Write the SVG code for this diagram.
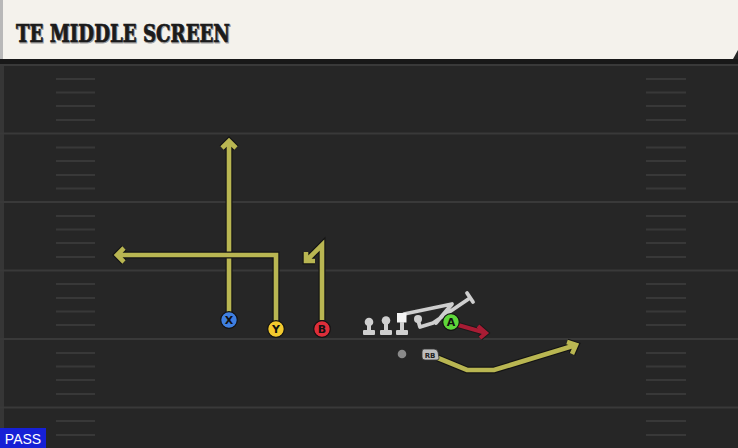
<svg xmlns="http://www.w3.org/2000/svg" width="738" height="448" viewBox="0 0 738 448">
<defs>
<style>
.yard{stroke:#393939;stroke-width:2.2}
.hash{stroke:#383838;stroke-width:2}
.ro{fill:none;stroke:#141414;stroke-width:7;stroke-linejoin:miter;stroke-linecap:butt}
.ri{fill:none;stroke:#b9b652;stroke-width:4.6;stroke-linejoin:miter;stroke-linecap:butt}
.bo{fill:none;stroke:#2a2a2a;stroke-width:5.5;stroke-linejoin:round;stroke-linecap:round}
.bi{fill:none;stroke:#cfcfcf;stroke-width:3.8;stroke-linejoin:round;stroke-linecap:round}
.lm{fill:#cfcfcf}
.lbl{font-family:"DejaVu Sans","Liberation Sans",sans-serif;font-weight:bold;font-size:11px;text-anchor:middle;fill:#111}
.ttl{font-family:"DejaVu Serif Condensed","DejaVu Serif",serif;font-weight:bold;font-size:25px}
</style>
</defs>
<rect x="0" y="0" width="738" height="448" fill="#262626"/>
<!-- header -->
<rect x="0" y="59" width="738" height="6" fill="#181818"/>
<path d="M0,0 H738 V50 L733,59 H0 Z" fill="#f4f2ec"/>
<rect x="0" y="0" width="3" height="59" fill="#b8b8b8"/>
<text class="ttl" x="16.8" y="42.8" fill="#a0a0a0" stroke="#a0a0a0" stroke-width="1" textLength="214" lengthAdjust="spacingAndGlyphs">TE MIDDLE SCREEN</text>
<text class="ttl" x="16" y="42" fill="#1b1b1b" stroke="#1b1b1b" stroke-width="0.7" textLength="214" lengthAdjust="spacingAndGlyphs">TE MIDDLE SCREEN</text>
<!-- field lines -->
<rect x="0" y="65" width="4" height="383" fill="#363636"/>
<g id="field">
<line class="yard" x1="0" y1="65" x2="738" y2="65"/>
<line class="yard" x1="0" y1="133.5" x2="738" y2="133.5"/>
<line class="yard" x1="0" y1="202" x2="738" y2="202"/>
<line class="yard" x1="0" y1="270.5" x2="738" y2="270.5"/>
<line class="yard" x1="0" y1="339" x2="738" y2="339"/>
<line class="yard" x1="0" y1="407.5" x2="738" y2="407.5"/>
<g class="hash">
<path d="M56,79H95M56,92.5H95M56,106H95M56,120H95M56,147.5H95M56,161H95M56,175H95M56,188.5H95M56,216H95M56,229.5H95M56,243H95M56,257H95M56,284H95M56,298H95M56,311.5H95M56,325H95M56,353H95M56,366.5H95M56,380H95M56,394H95M56,421H95M56,435H95"/>
<path d="M646,79H686M646,92.5H686M646,106H686M646,120H686M646,147.5H686M646,161H686M646,175H686M646,188.5H686M646,216H686M646,229.5H686M646,243H686M646,257H686M646,284H686M646,298H686M646,311.5H686M646,325H686M646,353H686M646,366.5H686M646,380H686M646,394H686M646,421H686M646,435H686"/>
</g>
</g>
<!-- connectors -->
<g id="connectors">
<path class="ro" d="M229,312V141M222,148L229,141L236,148"/>
<path class="ri" d="M229,312V141M222,148L229,141L236,148"/>
<path class="ro" d="M276,321V255H117M124,248L117,255L124,262"/>
<path class="ri" d="M276,321V255H117M124,248L117,255L124,262"/>
<path class="ro" d="M322,320V245L306,261M306,252V261H315"/>
<path class="ri" d="M322,320V245L306,261M306,252V261H315"/>
<path class="ro" d="M438,358L467,370H494L576,345M567,342L576,345L572,354"/>
<path class="ri" d="M438,358L467,370H494L576,345M567,342L576,345L572,354"/>
<path d="M458,325L486,333M478,326L486,333L480,338" fill="none" stroke="#1a1a1a" stroke-width="6"/>
<path d="M458,325L486,333M478,326L486,333L480,338" fill="none" stroke="#a81c34" stroke-width="4"/>
<path class="bo" d="M404,314L452,304L436,323M418,320L420,327L433,323L470,298M467,293L473,302"/>
<path class="bi" d="M404,314L452,304L436,323M418,320L420,327L433,323L470,298M467,293L473,302"/>
</g>
<!-- offensive line -->
<g id="lt"><circle class="lm" cx="369" cy="322" r="4.3"/><rect class="lm" x="367" y="322" width="4" height="9"/><rect class="lm" x="363" y="330" width="12" height="5" rx="1"/></g>
<g id="lg"><circle class="lm" cx="386" cy="320.5" r="4.3"/><rect class="lm" x="384" y="320" width="4" height="11"/><rect class="lm" x="380" y="330" width="12" height="5" rx="1"/></g>
<g id="c"><rect x="397" y="313" width="9.5" height="9.5" fill="#f4f4f4"/><rect class="lm" x="400" y="322" width="4" height="9"/><rect class="lm" x="396" y="330" width="12" height="5" rx="1"/></g>
<g id="rg"><circle class="lm" cx="418" cy="319" r="4"/></g>
<g id="qb"><circle cx="402" cy="354" r="4.3" fill="#8a8a8a"/></g>
<g id="rb"><path d="M424,349H434Q437,349 438,352L439,358Q439,360 437,360H425Q422,360 422,357V352Q422,349 424,349Z" fill="#bdbdbd" stroke="#333" stroke-width="0.8"/><text x="430" y="357.5" font-family="'DejaVu Sans','Liberation Sans',sans-serif" font-size="7" font-weight="bold" text-anchor="middle" fill="#222">RB</text></g>
<!-- receivers -->
<g id="x"><circle cx="229" cy="320" r="8.3" fill="#3f7fe0" stroke="#111" stroke-width="1.2"/><text class="lbl" x="229" y="324">X</text></g>
<g id="y"><circle cx="276" cy="329" r="8.3" fill="#f2c92e" stroke="#111" stroke-width="1.2"/><text class="lbl" x="276" y="333">Y</text></g>
<g id="b"><circle cx="322" cy="329" r="8.3" fill="#de2e3a" stroke="#111" stroke-width="1.2"/><text class="lbl" x="322" y="333">B</text></g>
<g id="a"><circle cx="451" cy="322" r="8.3" fill="#5ed63a" stroke="#111" stroke-width="1.2"/><text class="lbl" x="451" y="326">A</text></g>
<!-- pass tag -->
<g id="pass"><rect x="0" y="428" width="46" height="20" fill="#1620d6"/><text x="23" y="444" font-family="'Liberation Sans',Arial,sans-serif" font-size="14" text-anchor="middle" fill="#ffffff">PASS</text></g>
</svg>
